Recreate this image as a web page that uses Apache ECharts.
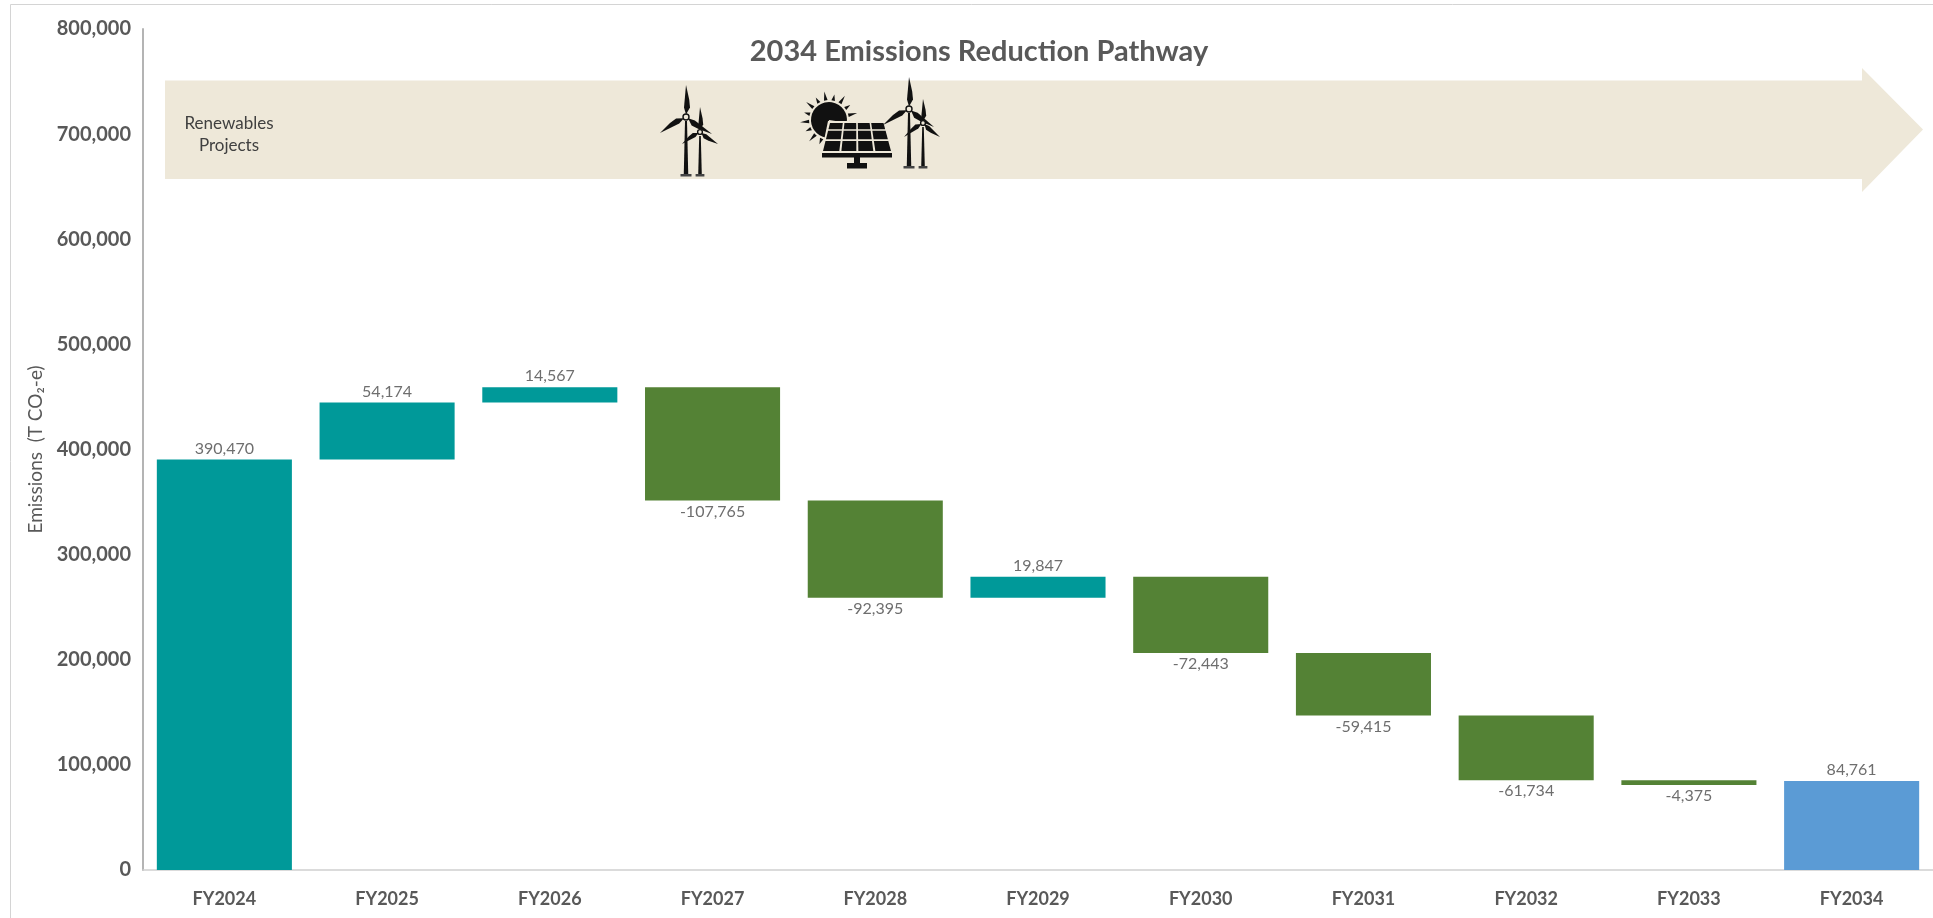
<!DOCTYPE html>
<html>
<head>
<meta charset="utf-8">
<style>
  html, body { margin: 0; padding: 0; background: #fff; }
  #chart { width: 1933px; height: 918px; }
</style>
<script src="https://cdn.jsdelivr.net/npm/echarts@6/dist/echarts.min.js"></script>
</head>
<body>
<div id="chart"></div>
<script>
const categories = ['FY2024', 'FY2025', 'FY2026', 'FY2027', 'FY2028', 'FY2029', 'FY2030', 'FY2031', 'FY2032', 'FY2033', 'FY2034']
const baseValues = [0, 390470, 444644, 351446, 259051, 259051, 206455, 147040, 85306, 80931, 0]
const startValues = [390470, '-', '-', '-', '-', '-', '-', '-', '-', '-', '-']
const increases = ['-', 54174, 14567, '-', '-', 19847, '-', '-', '-', '-', '-']
const decreases = ['-', '-', '-', 107765, 92395, '-', 72443, 59415, 61734, 4375, '-']
const endValues = ['-', '-', '-', '-', '-', '-', '-', '-', '-', '-', 84761]

const FONT = 'Lato, "Noto Sans", sans-serif'
const GREY = '#595959'
const ICON = '#111111'
const BAND = '#EEE8D9'

const fmt = (v) => Math.round(v).toLocaleString('en-US')

const barSeries = (name, data, color, position, sign) => ({
  name,
  type: 'bar',
  stack: 'flow',
  data,
  barWidth: '83%',
  itemStyle: { color },
  label: {
    show: true,
    position,
    distance: position === 'bottom' ? 3 : 3,
    color: '#6e6e6e',
    fontFamily: FONT,
    fontSize: 16,
    formatter: (p) => sign + fmt(p.value),
  },
})

// decorations (arrow and icons), drawn in page pixels
const poly = (points, fill) => ({ type: 'polygon', shape: { points }, style: { fill: fill || ICON }, silent: true })

const blade = (hub, tip, w) => {
  const dx = tip[0] - hub[0]
  const dy = tip[1] - hub[1]
  const len = Math.sqrt(dx * dx + dy * dy)
  const nx = -dy / len
  const ny = dx / len
  return poly([
    [hub[0] + dx * 0.08, hub[1] + dy * 0.08],
    [hub[0] + dx * 0.3 + nx * w, hub[1] + dy * 0.3 + ny * w],
    [hub[0] + dx * 0.55 + nx * w * 0.8, hub[1] + dy * 0.55 + ny * w * 0.8],
    tip,
    [hub[0] + dx * 0.3 - nx * w * 0.5, hub[1] + dy * 0.3 - ny * w * 0.5],
  ])
}

const turbine = (hub, tips, baseY, w) => [
  poly([[hub[0] - w * 0.4, hub[1] + 4], [hub[0] + w * 0.4, hub[1] + 4], [hub[0] + w * 0.9, baseY], [hub[0] - w * 0.9, baseY]]),
  { type: 'rect', shape: { x: hub[0] - w * 2.2, y: baseY - 1, width: w * 4.4, height: 2.5 }, style: { fill: '#444' }, silent: true },
  ...tips.map((t) => blade(hub, t, w * 1.6)),
  { type: 'circle', shape: { cx: hub[0], cy: hub[1], r: w * 1.2 }, style: { fill: BAND, stroke: ICON, lineWidth: 1.4 }, silent: true },
]

const sunRays = (cx, cy, r0, r1, count) => {
  const out = []
  for (let i = 0; i < count; i++) {
    const a = Math.PI * (0.62 + (1.42 * i) / (count - 1))
    const da = 0.09
    const r = i % 2 ? r1 : r1 - 3
    out.push(poly([
      [cx + Math.cos(a - da) * r0, cy + Math.sin(a - da) * r0],
      [cx + Math.cos(a) * r, cy + Math.sin(a) * r],
      [cx + Math.cos(a + da) * r0, cy + Math.sin(a + da) * r0],
    ]))
  }
  return out
}

const solarPanel = () => {
  const out = [
    { type: 'sector', shape: { cx: 829, cy: 120, r: 18, startAngle: Math.PI * 0.55, endAngle: Math.PI * 2.05 }, style: { fill: ICON }, silent: true },
    ...sunRays(829, 120, 20, 29, 13),
    // cut the sun behind the panel
    poly([[828, 121], [884, 121], [893, 155], [821, 155]], BAND),
  ]
  const topY = 123
  const botY = 151
  const rows = [[0, 0.22], [0.28, 0.58], [0.64, 1]]
  const cols = [[0, 0.24], [0.27, 0.49], [0.52, 0.74], [0.77, 1]]
  const edge = (t) => [830 - 7 * t, 883.5 + 7.5 * t]
  rows.forEach((r) => {
    cols.forEach((c) => {
      const [l0, r0] = edge(r[0])
      const [l1, r1] = edge(r[1])
      const y0 = topY + (botY - topY) * r[0]
      const y1 = topY + (botY - topY) * r[1]
      out.push(poly([
        [l0 + (r0 - l0) * c[0], y0],
        [l0 + (r0 - l0) * c[1], y0],
        [l1 + (r1 - l1) * c[1], y1],
        [l1 + (r1 - l1) * c[0], y1],
      ]))
    })
  })
  out.push(
    { type: 'rect', shape: { x: 822, y: 153, width: 70, height: 4.5 }, style: { fill: ICON }, silent: true },
    { type: 'rect', shape: { x: 854, y: 157, width: 6, height: 7 }, style: { fill: ICON }, silent: true },
    { type: 'rect', shape: { x: 847, y: 163, width: 20, height: 5.5 }, style: { fill: ICON }, silent: true },
  )
  return out
}

const arrow = {
  type: 'polygon',
  silent: true,
  shape: { points: [[165, 80.5], [1862, 80.5], [1862, 68], [1923, 129.5], [1862, 192], [1862, 179], [165, 179]] },
  style: { fill: BAND },
}

const option = {
  animation: false,
  backgroundColor: '#fff',
  title: {
    text: '2034 Emissions Reduction Pathway',
    left: 974,
    top: 32,
    textAlign: 'center',
    textStyle: { color: GREY, fontFamily: FONT, fontSize: 29, fontWeight: 'bold' },
  },
  grid: { left: 143, top: 29, width: 1791, height: 841 },
  xAxis: {
    type: 'category',
    data: categories,
    axisLine: { lineStyle: { color: '#d0d0d0', width: 1.5 } },
    axisTick: { show: false },
    axisLabel: { color: GREY, fontFamily: FONT, fontSize: 18, fontWeight: 'bold', margin: 20 },
  },
  yAxis: {
    type: 'value',
    min: 0,
    max: 800000,
    interval: 100000,
    name: 'Emissions  (T CO₂-e)',
    nameLocation: 'middle',
    nameRotate: 90,
    nameGap: 96,
    nameTextStyle: { color: GREY, fontFamily: FONT, fontSize: 19 },
    axisLine: { show: true, lineStyle: { color: '#b4b4b4', width: 2 } },
    axisTick: { show: false },
    splitLine: { show: false },
    axisLabel: { color: GREY, fontFamily: FONT, fontSize: 20, fontWeight: 'bold', margin: 12, padding: [4, 0, 0, 0], formatter: (v) => fmt(v) },
  },
  series: [
    { name: 'base', type: 'bar', stack: 'flow', data: baseValues, barWidth: '83%', itemStyle: { color: 'transparent' }, silent: true },
    barSeries('start', startValues, '#009999', 'top', ''),
    barSeries('increase', increases, '#009999', 'top', ''),
    barSeries('decrease', decreases, '#548235', 'bottom', '-'),
    barSeries('end', endValues, '#5B9BD5', 'top', ''),
  ],
  graphic: [
    { type: 'line', shape: { x1: 10.5, y1: 4.5, x2: 1933, y2: 4.5 }, style: { stroke: '#d4d4d4', lineWidth: 1 }, silent: true },
    { type: 'line', shape: { x1: 10.5, y1: 4.5, x2: 10.5, y2: 918 }, style: { stroke: '#d4d4d4', lineWidth: 1 }, silent: true },
    arrow,
    {
      type: 'text',
      silent: true,
      style: { x: 229, y: 135, text: 'Renewables\nProjects', align: 'center', verticalAlign: 'middle', fill: '#404040', font: '17px ' + FONT, lineHeight: 22 },
    },
    ...turbine([686, 117], [[686, 85], [660, 133], [712, 134]], 175, 2.5),
    ...turbine([700, 132], [[700, 107], [682, 144], [718, 144]], 175, 2),
    ...solarPanel(),
    ...turbine([909, 109], [[909, 77], [883, 125], [934, 127]], 167, 2.5),
    ...turbine([923, 123], [[923, 99], [904, 137], [940, 137]], 167, 2),
  ],
}

const chart = echarts.init(document.getElementById('chart'))
chart.setOption(option)
</script>
</body>
</html>
